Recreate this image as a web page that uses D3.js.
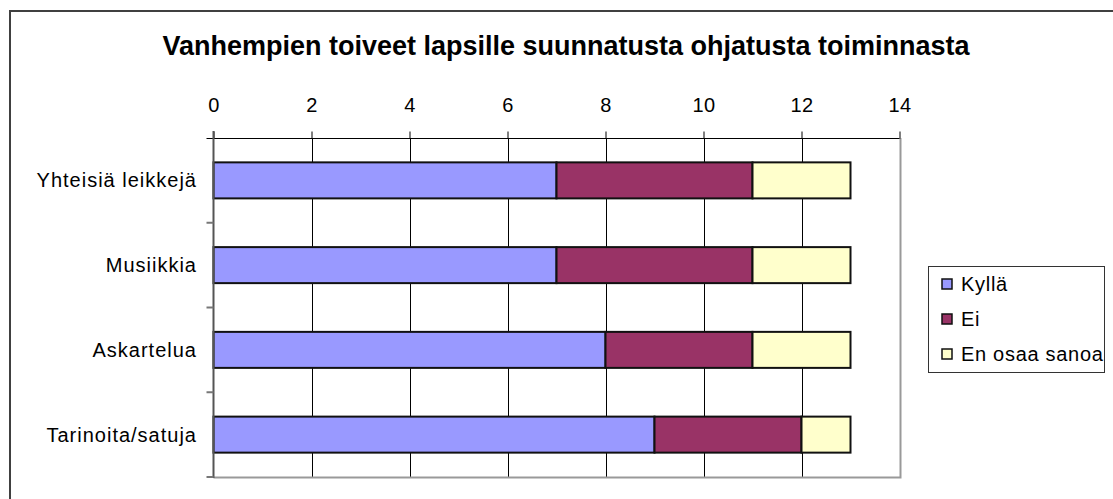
<!DOCTYPE html>
<html>
<head>
<meta charset="utf-8">
<script src="https://cdn.jsdelivr.net/npm/d3@7"></script>
<style>
  body { margin: 0; background: #fff; }
  svg { display: block; font-family: "Liberation Sans", Arial, sans-serif; }
</style>
</head>
<body>
<svg id="chart" width="1113" height="499"></svg>
<script>
var categories = ["Yhteisiä leikkejä", "Musiikkia", "Askartelua", "Tarinoita/satuja"];
var seriesNames = ["Kyllä", "Ei", "En osaa sanoa"];
var kylla = [7, 7, 8, 9];
var ei = [4, 4, 3, 3];
var enOsaa = [2, 2, 2, 1];
var tickValues = [0, 2, 4, 6, 8, 10, 12, 14];
var colors = ["#9999FF", "#993366", "#FFFFCC"];

var svg = d3.select("svg#chart");

// outer chart border (cropped on right and bottom)
svg.append("rect")
  .attr("x", 10).attr("y", 11)
  .attr("width", 1120).attr("height", 520)
  .attr("fill", "none")
  .attr("stroke", "#404040")
  .attr("stroke-width", 2);

svg.append("text")
  .attr("x", 566).attr("y", 55)
  .attr("text-anchor", "middle")
  .attr("font-size", "27px")
  .attr("font-weight", "bold")
  .text("Vanhempien toiveet lapsille suunnatusta ohjatusta toiminnasta");

var plotL = 213.5, plotR = 899.5, plotT = 138, plotB = 477;

var x = d3.scaleLinear().domain([0, 14]).range([plotL, plotR]);
var y = d3.scaleBand().domain(categories).range([plotT, plotB]).paddingInner(0.575).paddingOuter(0.2875);

var rows = categories.map(function(c, i) {
  return { cat: c, "Kyllä": kylla[i], "Ei": ei[i], "En osaa sanoa": enOsaa[i] };
});
var stack = d3.stack().keys(seriesNames)(rows);

// gridlines
svg.append("g").selectAll("line")
  .data(tickValues.slice(1, -1))
  .enter().append("line")
    .attr("x1", function(d) { return Math.round(x(d)) + 0.5; })
    .attr("x2", function(d) { return Math.round(x(d)) + 0.5; })
    .attr("y1", plotT).attr("y2", plotB)
    .attr("stroke", "#000").attr("stroke-width", 1);

// plot area right/bottom border
svg.append("path")
  .attr("d", "M" + (Math.round(plotR) + 0.5) + "," + plotT + "V" + (plotB + 0.5) + "H" + plotL)
  .attr("fill", "none").attr("stroke", "#999").attr("stroke-width", 2);

// bars
svg.append("g").selectAll("g")
  .data(stack)
  .enter().append("g")
    .attr("fill", function(d, i) { return colors[i]; })
  .selectAll("rect")
  .data(function(d) { return d; })
  .enter().append("rect")
    .attr("x", function(d) { return x(d[0]); })
    .attr("y", function(d) { return y(d.data.cat); })
    .attr("width", function(d) { return x(d[1]) - x(d[0]); })
    .attr("height", y.bandwidth())
    .attr("stroke", "#111").attr("stroke-width", 2);

// top axis
var xAxis = svg.append("g")
  .attr("transform", "translate(0," + (plotT + 0.5) + ")")
  .call(d3.axisTop(x).tickValues(tickValues).tickSize(7).tickPadding(20).tickSizeOuter(0));
xAxis.attr("font-family", null).attr("font-size", null);
xAxis.select(".domain").attr("stroke", "#000").attr("d", "M" + (plotL - 7) + ",0H" + plotR);
xAxis.selectAll(".tick line").attr("stroke", "#000");
xAxis.selectAll(".tick text").attr("font-size", "20px").attr("fill", "#000").attr("letter-spacing", "0.5px");

// left axis line with category boundary ticks
var boundaries = d3.range(categories.length + 1).map(function(i) {
  return plotT + i * (plotB - plotT) / categories.length;
});
svg.append("line")
  .attr("x1", plotL).attr("x2", plotL)
  .attr("y1", plotT - 7).attr("y2", plotB + 1)
  .attr("stroke", "#555").attr("stroke-width", 2);
svg.append("g").selectAll("line")
  .data(boundaries.slice(1))
  .enter().append("line")
    .attr("x1", plotL - 7).attr("x2", plotL)
    .attr("y1", function(d) { return d; }).attr("y2", function(d) { return d; })
    .attr("stroke", "#777").attr("stroke-width", 2);

// category labels
svg.append("g").selectAll("text")
  .data(categories)
  .enter().append("text")
    .attr("x", 197)
    .attr("y", function(d) { return y(d) + y.bandwidth() / 2; })
    .attr("dy", "0.35em")
    .attr("text-anchor", "end")
    .attr("font-size", "20px")
    .attr("letter-spacing", "1px")
    .text(function(d) { return d; });

// legend
var legend = svg.append("g");
legend.append("rect")
  .attr("x", 928.5).attr("y", 266.5)
  .attr("width", 176).attr("height", 106)
  .attr("fill", "#fff").attr("stroke", "#333").attr("stroke-width", 1);
var items = legend.selectAll("g.item")
  .data(seriesNames)
  .enter().append("g")
    .attr("class", "item")
    .attr("transform", function(d, i) { return "translate(942," + (284 + i * 35) + ")"; });
items.append("rect")
  .attr("x", 0).attr("y", -5)
  .attr("width", 10).attr("height", 10)
  .attr("fill", function(d, i) { return colors[i]; })
  .attr("stroke", "#111").attr("stroke-width", 1.5);
items.append("text")
  .attr("x", 19).attr("dy", "0.35em")
  .attr("font-size", "20px")
  .attr("letter-spacing", "0.7px")
  .text(function(d) { return d; });
</script>
</body>
</html>
